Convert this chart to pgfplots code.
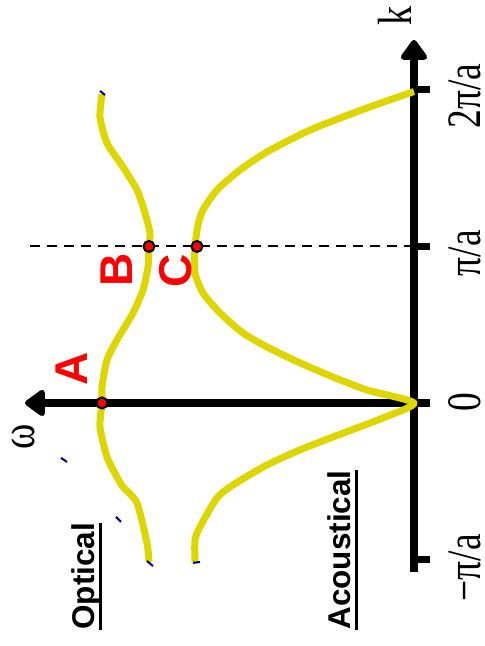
\documentclass[border=0pt]{standalone}
\usepackage{pgfplots}
\pgfplotsset{compat=1.18}
\usepackage{graphicx}
\usepackage{fontspec}
\setmainfont{Liberation Serif}
\newfontfamily\sansf{Liberation Sans}
\usetikzlibrary{arrows.meta}
\definecolor{curve}{RGB}{222,214,0}
\definecolor{darkblue}{RGB}{0,0,140}
\begin{document}
\begin{tikzpicture}
\begin{axis}[
  x=1pt, y=156.5pt,
  x dir=reverse,
  xmin=-16, xmax=389, ymin=-1.08, ymax=2.32,
  axis lines=middle,
  inner axis line style={line width=7.5pt, -{Triangle[round,length=22pt,width=30pt]}},
  xtick=\empty, ytick=\empty,
  clip=false,
]
% invisible frame giving the picture its size
\path (axis cs:-71,-1.553) rectangle (axis cs:414,2.575);
% dashed line at k = pi/a
\addplot[black, line width=2pt, dash pattern=on 10pt off 7pt] coordinates {(0,1) (384,1)};
% tick marks
\addplot[black, line width=7pt] coordinates {(0,2) (-16,2)};
\addplot[black, line width=7pt] coordinates {(0,1) (-16,1)};
\addplot[black, line width=7pt] coordinates {(0,-1) (-16,-1)};
% acoustical branch
\addplot[curve, line width=7pt, smooth, tension=0.4, line join=round] coordinates {
(0,1.99) (47,1.885) (104,1.744) (147,1.604) (174,1.489) (197,1.361)
(211,1.233) (216,1.137) (219,0.997) (219,0.831) (211,0.703) (194,0.575)
(171,0.447) (147,0.358) (114,0.256) (81,0.166) (47,0.083) (0,0)
(31,-0.096) (81,-0.217) (114,-0.300) (147,-0.396) (181,-0.524) (197,-0.607)
(214,-0.792) (219,-0.875) (219,-1.016)};
% optical branch
\addplot[curve, line width=7pt, smooth, tension=0.4, line join=round] coordinates {
(312,1.974) (314,1.827) (307,1.661) (291,1.508) (277,1.361) (269,1.214)
(264,1.086) (265,1.003) (266,0.869) (271,0.722) (281,0.575) (297,0.403)
(307,0.275) (312,0.102) (312,0) (314,-0.153) (307,-0.345) (297,-0.473)
(291,-0.537) (277,-0.639) (267,-0.895) (265,-1.016)};
% small dark blue dashes
\addplot[darkblue, line width=2pt] coordinates {(314,1.994) (309,1.968)};
\addplot[darkblue, line width=2pt] coordinates {(353,-0.351) (347,-0.377)};
\addplot[darkblue, line width=2pt] coordinates {(298,-0.728) (293,-0.760)};
\addplot[darkblue, line width=2pt] coordinates {(267,-1.010) (261,-1.042)};
\addplot[darkblue, line width=2pt] coordinates {(221,-1.022) (214,-1.016)};
% points A, B, C
\addplot[only marks, mark=*, mark size=5.5pt, mark options={fill=red, draw=black, line width=2pt}]
  coordinates {(312,0) (265,1) (217,1)};
% labels
\node[rotate=90, anchor=base, inner sep=0pt, font=\fontsize{48}{50}\selectfont] at (axis cs:2,2.473) {\scalebox{0.8}[1]{k}};
\node[rotate=90, anchor=base, inner sep=0pt, font=\fontsize{48}{50}\selectfont] at (axis cs:379,-0.217) {\scalebox{0.8}[1]{ω}};
\node[rotate=90, anchor=base, inner sep=0pt, font=\fontsize{48}{50}\selectfont] at (axis cs:-67,1.962) {\scalebox{0.78}[1]{2π/a}};
\node[rotate=90, anchor=base, inner sep=0pt, font=\fontsize{48}{50}\selectfont] at (axis cs:-67,0.958) {\scalebox{0.78}[1]{π/a}};
\node[rotate=90, anchor=base, inner sep=0pt, font=\fontsize{48}{50}\selectfont] at (axis cs:-67,0.006) {\scalebox{0.78}[1]{0}};
\node[rotate=90, anchor=base, inner sep=0pt, font=\fontsize{48}{50}\selectfont] at (axis cs:-67,-1.054) {\scalebox{0.78}[1]{−π/a}};
\node[rotate=90, anchor=center, inner sep=0pt, text=red, font=\sansf\bfseries\fontsize{46}{48}\selectfont] at (axis cs:342,0.217) {A};
\node[rotate=90, anchor=center, inner sep=0pt, text=red, font=\sansf\bfseries\fontsize{46}{48}\selectfont] at (axis cs:297,0.850) {B};
\node[rotate=90, anchor=center, inner sep=0pt, text=red, font=\sansf\bfseries\fontsize{46}{48}\selectfont] at (axis cs:238,0.843) {C};
\node[rotate=90, anchor=base west, inner sep=0pt, font=\sansf\bfseries\fontsize{31.5}{34}\selectfont] at (axis cs:319,-1.450) {\vtop{\hbox{\smash{Optical}}\kern4pt\hrule height 3.5pt}};
\node[rotate=90, anchor=base west, inner sep=0pt, font=\sansf\bfseries\fontsize{31.5}{34}\selectfont] at (axis cs:63,-1.450) {\vtop{\hbox{\smash{Acoustical}}\kern4pt\hrule height 3.5pt}};
\end{axis}
\end{tikzpicture}
\end{document}
